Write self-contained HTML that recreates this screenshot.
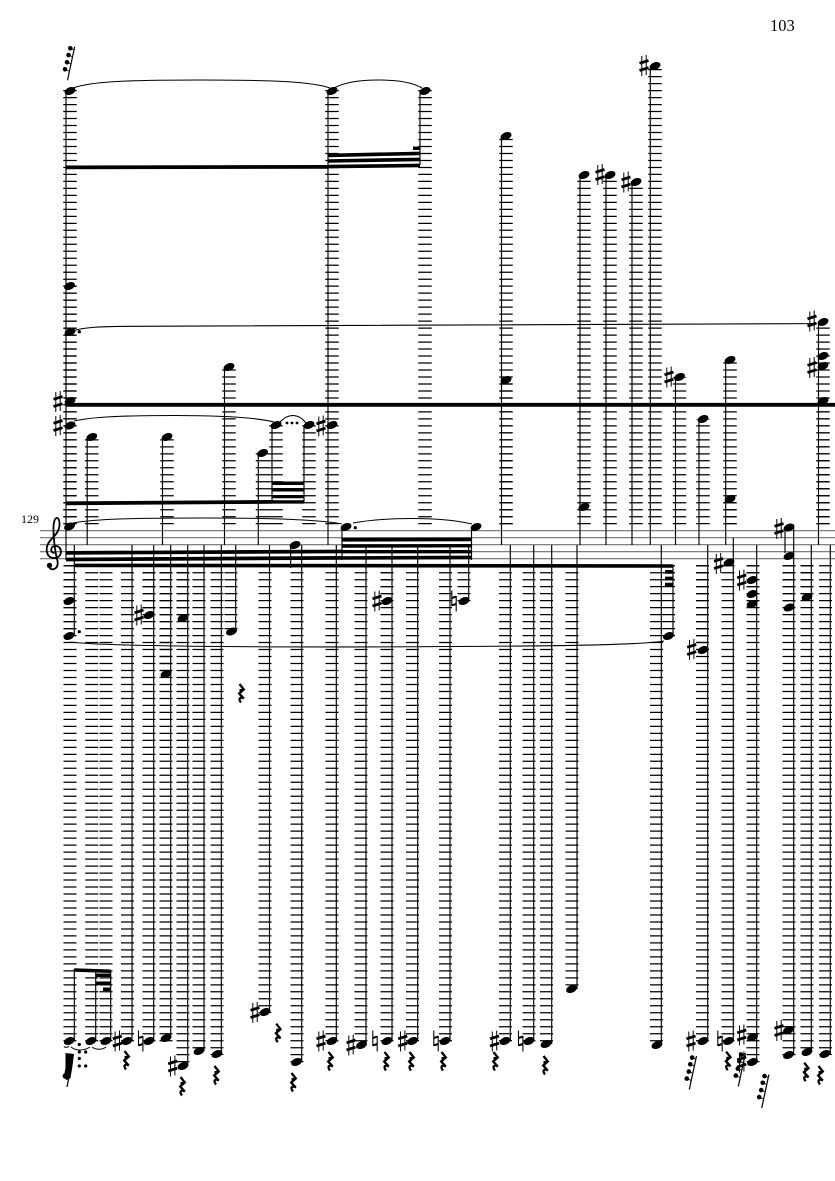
<!DOCTYPE html>
<html><head><meta charset="utf-8"><style>
html,body{margin:0;padding:0;background:#fff}
svg{display:block}
text{font-family:"Liberation Serif",serif;fill:#000}
</style></head><body>
<svg width="835" height="1181" viewBox="0 0 835 1181" xmlns="http://www.w3.org/2000/svg">
<defs>
<ellipse id="n" rx="5.7" ry="3.7" transform="rotate(-22)" fill="#000"/>
<g id="s" stroke="#000" fill="none"><path d="M-2.2 -9.500V10.500M2.200 -10.500V9.500" stroke-width="1"/><path d="M-4.500 -2.200L4.500 -5M-4.500 5L4.500 2.200" stroke-width="2.800"/></g>
<g id="h" stroke="#000" fill="none"><path d="M-2.200 -10.500V5M2.200 -5V10.500" stroke-width="1.100"/><path d="M-2.200 -3L2.200 -4.400M-2.200 4.400L2.200 3" stroke-width="2"/></g>
<g id="r"><path d="M-1.500 -9L2.800 -3.500L-1.800 .5L2.800 5.500C-1 3.500 -3 5.500 0 9.500" fill="none" stroke="#000" stroke-width="2.300"/><path d="M-1.500 -4L1.500 -4L-.5 2L2 3L-1.500 3Z" fill="#000"/></g>
<g id="g"><path d="M7.200 0L0 33.500" stroke="#000" stroke-width="1.200" fill="none"/><path d="M2.800 1.600L6.500 3M1 8.300L5 10M-.5 15.600L3.500 17.300M-2.500 22.600L2 24.500" stroke="#000" stroke-width=".8"/><circle cx="2.800" cy="1.600" r="2.300" fill="#000"/><circle cx="1" cy="8.300" r="2.300" fill="#000"/><circle cx="-.5" cy="15.600" r="2.300" fill="#000"/><circle cx="-2.500" cy="22.600" r="2.300" fill="#000"/></g>
</defs>

<text x="770" y="31" font-size="16.500">103</text>
<text x="21" y="523" font-size="12">129</text>

<!-- staff -->
<path d="M40 530.700H835M40 537.700H835M40 544.700H835M40 551.700H835M40 558.700H835" stroke="#6e6e6e" stroke-width="1.100" fill="none"/>

<!-- ledgers upper -->
<path fill="none" stroke="#000" stroke-width="13.500" stroke-dasharray="1.250 5.735" d="M70 524.300V90M91.700 524.300V437M167 524.300V437M229 524.300V367M262.500 524.300V453M276 524.300V425M309 524.300V425M332 524.300V90M425 524.300V90M506 524.300V136M584 524.300V175M610 524.300V175M636 524.300V182M655 524.300V66M679.500 524.300V377M703 524.300V419M730 524.300V360M823 524.300V322"/>
<!-- ledgers lower -->
<path fill="none" stroke="#000" stroke-width="13" stroke-dasharray="1.250 5.735" d="M70 565.100V1042M91.700 565.100V1042M106 565.100V1042M127.500 565.100V1042M149 565.100V1042M166 565.100V1042M183 565.100V1067M199 565.100V1053M217 565.100V1055M231 565.100V632M265 565.100V1013M297 565.100V1063M332 565.100V1042M361 565.100V1046M387 565.100V1042M412.500 565.100V1042M445.500 565.100V1042M464 565.100V602M505.500 565.100V1042M529 565.100V1042M546.500 565.100V1042M572 565.100V990M656.500 565.100V1042M668.500 565.100V637M702.500 565.100V1042M728 565.100V1042M753 565.100V1063M789 565.100V1056M807 565.100V1053M825.500 565.100V1055"/>
<!-- darker doubled ledgers -->
<path fill="none" stroke="#000" stroke-width="13" stroke-dasharray="1.250 5.735" d="M70 524.300V286M70 565.100V636M149 565.100V615M183 565.100V618M166 565.100V674M387 565.100V601M702.500 565.100V650M753 565.100V605M789 565.100V607M807 565.100V597M506 524.300V380M730 524.300V499M823 524.300V401"/>

<!-- stems -->
<path fill="none" stroke="#000" stroke-width="1.150" d="M66 91V560M87.200 437V545M162.500 437V545M224.500 367V545M258.300 453V545M272 425V502M304 425V502M328 91V545M342 527V560M420 91V165M471.500 527V560M290.700 545V568M501.500 136V545M580 175V545M606 175V545M632 183V545M650.300 66V545M675.500 377V545M699 419V545M725.700 360V545M818.500 322V545M785 531V553
M74.300 545V636M74.300 969V1041M95.700 970V1041M110.700 971V1041M132 545V1041M153.700 545V1041M170.700 545V1038M187.700 545V1066M204 545V1051M221.300 545V1054M235.700 545V631M269.500 545V1012M301.700 545V1062M336.300 545V1041M366 545V1045M392 545V1041M417.700 545V1041M450 545V1041M468.700 545V601M510.300 545V1041M533.700 545V1041M551.700 545V1044M577 545V989M661.300 545V1045M673 565V636M707.700 545V1041M733.300 538V1041M756.700 545V1062M793.700 527V1055M811.300 545V1052M830.300 545V1054"/>

<!-- beams -->
<g fill="#000">
<path d="M66 165.500L328 165V168.700L66 169.200Z"/>
<path d="M328 153.600L420 151.600V155.200L328 157.200ZM328 159.200L420 157.600V161.200L328 162.800ZM328 164.800L420 163.600V167.200L328 168.400ZM413 146.500H420V150H413Z"/>
<path d="M66 402.900H835V406.700H66Z"/>
<path d="M66 501.400L272 500V503.800L66 505.200ZM272 500.300L304 500.300V503.600L272 503.600ZM272 481.500H304V485H272ZM272 488H304V491.500H272ZM272 495H304V498.300H272Z"/>
<path d="M66 551L342 549.600V553.300L66 554.700ZM66 557.600L342 556V559.800L66 561.400Z"/>
<path d="M342 537.900L471.500 537.500V541.200L342 541.600ZM342 544.300L471.500 544V547.400L342 547.700ZM342 550L471.500 550V553.400L342 553.400ZM342 556.200L471.500 555.600V559.200L342 559.800Z"/>
<path d="M74.300 563.600L673 564.200V567.800L74.300 567.200Z"/>
<path d="M665 570H673V573.800H665ZM665 576.600H673V580.200H665ZM665 582.800H673V586.600H665Z"/>
<path d="M74.300 968.200L110.700 969.500V973L74.300 971.800Z"/>
<path d="M95.700 973.500H110.700V977H95.700ZM95.700 981.500H110.700V985H95.700ZM103 987.500H110.700V991H103Z"/>
</g>

<!-- ties -->
<g fill="none" stroke="#000" stroke-width="1.050">
<path d="M73 88C90 82 120 80 200 80C280 80 312 82 330 88"/>
<path d="M334 88C345 82 360 80 378 80C396 80 412 82 422 88"/>
<path d="M72 331C85 327 100 326.500 130 326.300L815 323.600"/>
<path d="M74 421C92 417 120 415.500 175 415.500C230 415.500 258 418 274 422"/>
<path d="M279 423C288 413 298 413 306 423"/>
<path d="M73 523C95 519 130 518 205 518C280 518 322 520 342 524"/>
<path d="M353 523C375 519 395 518.500 412 518.500C435 518.500 455 520 472 524"/>
<path d="M70 642C110 647 300 647.500 450 646.500C560 646 640 645 664 641"/>
<path d="M71 1047C76 1051 84 1051 90 1047M92 1047C96 1050 102 1050 106 1047M64 1046.500C65 1047.500 67 1047.500 69 1046.500"/>
</g>

<!-- notes upper -->
<g>
<use href="#n" x="70" y="91"/><use href="#n" x="69.500" y="286"/><use href="#n" x="70" y="332"/><use href="#n" x="70" y="401"/><use href="#n" x="70" y="425.500"/><use href="#n" x="69.500" y="526.500"/>
<use href="#n" x="91.700" y="437"/><use href="#n" x="167" y="437"/><use href="#n" x="229" y="367"/><use href="#n" x="262.500" y="453"/><use href="#n" x="276" y="425"/><use href="#n" x="309" y="425"/><use href="#n" x="332" y="91"/><use href="#n" x="332" y="425"/><use href="#n" x="346" y="527"/><use href="#n" x="425" y="91"/><use href="#n" x="476" y="527"/><use href="#n" x="295" y="545"/>
<use href="#n" x="506" y="136"/><use href="#n" x="506" y="380"/><use href="#n" x="584" y="175"/><use href="#n" x="584" y="507"/><use href="#n" x="610" y="175"/><use href="#n" x="636" y="182"/><use href="#n" x="655" y="66"/><use href="#n" x="679.500" y="377"/><use href="#n" x="703" y="419"/><use href="#n" x="730" y="360"/><use href="#n" x="730" y="499"/><use href="#n" x="823" y="322"/><use href="#n" x="823" y="356"/><use href="#n" x="823" y="366"/><use href="#n" x="823" y="401"/><use href="#n" x="789" y="527.500"/><use href="#n" x="789" y="556"/>
</g>
<!-- notes lower -->
<g>
<use href="#n" x="69" y="601"/><use href="#n" x="69" y="636"/><use href="#n" x="149" y="615"/><use href="#n" x="183" y="618"/><use href="#n" x="166" y="674"/><use href="#n" x="231.500" y="631.500"/><use href="#n" x="387" y="601"/><use href="#n" x="464" y="601"/><use href="#n" x="668.500" y="636"/><use href="#n" x="703" y="650"/><use href="#n" x="729" y="562.500"/><use href="#n" x="752" y="580"/><use href="#n" x="752" y="594"/><use href="#n" x="752" y="604"/><use href="#n" x="789" y="607.500"/><use href="#n" x="807" y="597"/>
<use href="#n" x="69.300" y="1041"/><use href="#n" x="91" y="1041"/><use href="#n" x="106" y="1041"/><use href="#n" x="127" y="1041"/><use href="#n" x="149" y="1041"/><use href="#n" x="166" y="1038"/><use href="#n" x="183" y="1066"/><use href="#n" x="199" y="1051"/><use href="#n" x="217" y="1054"/><use href="#n" x="265" y="1012"/><use href="#n" x="296.500" y="1062"/><use href="#n" x="332" y="1041"/><use href="#n" x="361.500" y="1045"/><use href="#n" x="387" y="1041"/><use href="#n" x="412.500" y="1041"/><use href="#n" x="445" y="1041"/><use href="#n" x="505" y="1041"/><use href="#n" x="529" y="1041"/><use href="#n" x="546" y="1044"/><use href="#n" x="571.500" y="989"/><use href="#n" x="657" y="1045"/><use href="#n" x="703" y="1041"/><use href="#n" x="728.500" y="1041"/><use href="#n" x="752.500" y="1037"/><use href="#n" x="752.500" y="1062"/><use href="#n" x="788.500" y="1030"/><use href="#n" x="788.500" y="1055"/><use href="#n" x="807" y="1052"/><use href="#n" x="825" y="1054"/>
</g>

<!-- dots -->
<g fill="#000">
<circle cx="79.300" cy="331.700" r="1.600"/><circle cx="355.300" cy="527.700" r="1.600"/><circle cx="79.300" cy="631.700" r="1.600"/>
<circle cx="287" cy="423" r="1.400"/><circle cx="292" cy="423" r="1.400"/><circle cx="297" cy="423" r="1.400"/>
<circle cx="79.300" cy="1044.500" r="1.600"/><circle cx="79.300" cy="1052" r="1.600"/><circle cx="85.700" cy="1052" r="1.600"/><circle cx="79.300" cy="1058.500" r="1.600"/><circle cx="79.300" cy="1066" r="1.600"/><circle cx="85.700" cy="1066" r="1.600"/>
</g>

<!-- sharps -->
<g>
<use href="#s" x="58" y="401.500"/><use href="#s" x="58" y="425.500"/><use href="#s" x="139" y="615"/><use href="#s" x="321" y="426"/><use href="#s" x="377" y="601"/><use href="#s" x="600" y="174.500"/><use href="#s" x="626" y="182"/><use href="#s" x="644" y="65.500"/><use href="#s" x="669" y="377"/><use href="#s" x="812" y="321"/><use href="#s" x="812" y="367.500"/><use href="#s" x="779" y="528.500"/><use href="#s" x="718.500" y="563.500"/><use href="#s" x="741.700" y="580"/><use href="#s" x="691.700" y="649.500"/>
<use href="#s" x="117.300" y="1041"/><use href="#s" x="172.700" y="1066"/><use href="#s" x="255" y="1012.500"/><use href="#s" x="321" y="1041"/><use href="#s" x="351" y="1045"/><use href="#s" x="402.700" y="1041"/><use href="#s" x="494.500" y="1041"/><use href="#s" x="691" y="1041"/><use href="#s" x="741.700" y="1035"/><use href="#s" x="741.700" y="1062"/><use href="#s" x="779" y="1030.500"/>
</g>
<!-- naturals -->
<g>
<use href="#h" x="454" y="601"/><use href="#h" x="140.700" y="1041"/><use href="#h" x="375" y="1041"/><use href="#h" x="436" y="1041"/><use href="#h" x="520.700" y="1041"/><use href="#h" x="720" y="1041"/>
</g>
<!-- rests -->
<g>
<use href="#r" x="241" y="693"/><use href="#r" x="126" y="1060"/><use href="#r" x="182" y="1086"/><use href="#r" x="216" y="1075"/><use href="#r" x="277.700" y="1032.700"/><use href="#r" x="293" y="1082"/><use href="#r" x="330" y="1061"/><use href="#r" x="386" y="1061"/><use href="#r" x="411" y="1061"/><use href="#r" x="443" y="1061"/><use href="#r" x="495" y="1061"/><use href="#r" x="545" y="1065"/><use href="#r" x="727.700" y="1060.700"/><use href="#r" x="805.700" y="1071.700"/><use href="#r" x="820" y="1075"/>
</g>
<!-- grace groups -->
<use href="#g" x="67.500" y="46.700"/>
<use href="#g" x="689.300" y="1056"/>
<use href="#g" x="738.300" y="1053"/>
<use href="#g" x="761.700" y="1074.500"/>
<g fill="#000"><path d="M65.500 1053L74 1054L72.500 1066L70.500 1078L67 1080L63.500 1078L65.500 1068Z"/><path d="M73.300 1055L67 1087" stroke="#000" stroke-width="1.200" fill="none"/><circle cx="65" cy="1076" r="2.500"/></g>

<!-- clef -->
<g fill="none" stroke="#000" stroke-width="1.800">
<path d="M54.500 553C50 553 50 546 55.500 546C63 546 63 558 54 558C46.500 558 45 549 48.500 543C52 537 59 534 59.500 525C59.700 518 56.500 515.500 54.500 520.500C52 528 54.500 550 57.500 561C59 569 52 571 49.500 568"/>
</g>
<circle cx="49.500" cy="565.500" r="2.700" fill="#000"/>
</svg>
</body></html>
